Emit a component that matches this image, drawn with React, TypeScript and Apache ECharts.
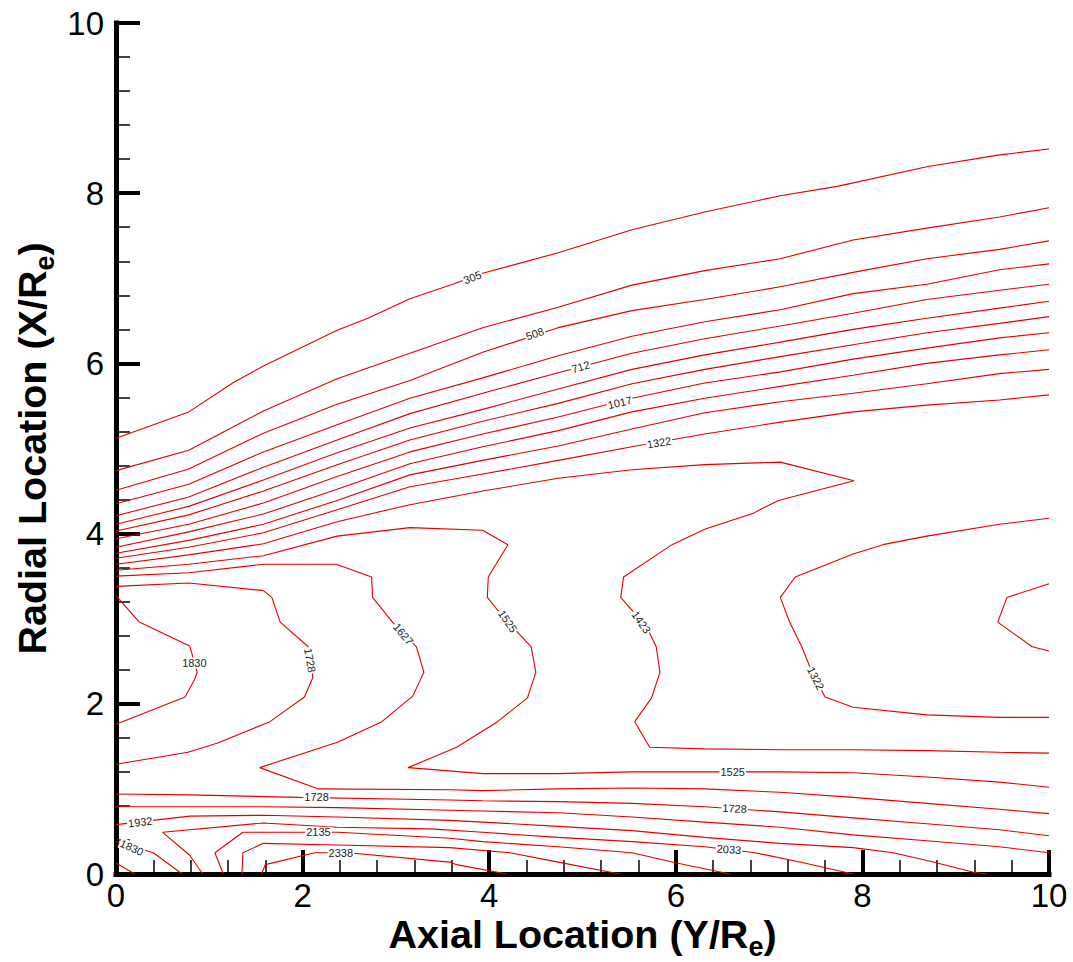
import React, { useEffect, useRef } from "react";
import * as echarts from "echarts";

// ---- contour lines, [axial (Y/Re), radial (X/Re)] ----
const c305 = [[0,5.12],[0.78,5.43],[1.25,5.77],[1.58,5.97],[1.94,6.16],[2.37,6.39],[2.70,6.53],[3.15,6.76],[3.61,6.93],[3.93,7.06],[4.74,7.30],[5.53,7.57],[6.31,7.78],[7.12,7.97],[7.73,8.08],[8.69,8.31],[9.47,8.45],[10,8.52]];
const c407 = [[0,4.74],[0.78,4.98],[1.58,5.44],[2.37,5.82],[3.15,6.12],[3.93,6.42],[4.74,6.66],[5.53,6.92],[6.31,7.09],[7.12,7.23],[7.90,7.45],[8.69,7.59],[9.47,7.72],[10,7.83]];
const c508 = [[0,4.51],[0.78,4.76],[1.58,5.18],[2.37,5.52],[3.15,5.80],[3.93,6.13],[4.74,6.42],[5.53,6.62],[6.31,6.75],[7.12,6.90],[7.90,7.07],[8.69,7.23],[9.47,7.34],[10,7.44]];
const c610 = [[0,4.35],[0.78,4.58],[1.58,4.96],[2.37,5.28],[3.15,5.59],[3.93,5.83],[4.74,6.09],[5.53,6.32],[6.31,6.49],[7.12,6.63],[7.90,6.82],[8.69,6.93],[9.47,7.10],[10,7.17]];
const c712 = [[0,4.21],[0.78,4.43],[1.58,4.78],[2.37,5.10],[3.15,5.41],[3.93,5.65],[4.74,5.89],[5.53,6.12],[6.31,6.29],[7.12,6.44],[7.90,6.59],[8.69,6.75],[9.47,6.86],[10,6.93]];
const c814 = [[0,4.11],[0.78,4.32],[1.58,4.63],[2.37,4.95],[3.15,5.24],[3.93,5.46],[4.74,5.70],[5.53,5.93],[6.31,6.10],[7.12,6.25],[7.90,6.40],[8.69,6.53],[9.47,6.65],[10,6.73]];
const c915 = [[0,4.03],[0.78,4.22],[1.58,4.50],[2.37,4.81],[3.15,5.10],[3.93,5.32],[4.74,5.53],[5.53,5.76],[6.31,5.93],[7.12,6.08],[7.90,6.22],[8.69,6.36],[9.47,6.47],[10,6.55]];
const c1017 = [[0,3.94],[0.78,4.11],[1.58,4.36],[2.37,4.67],[3.15,4.96],[3.93,5.17],[4.74,5.37],[5.53,5.59],[6.31,5.77],[7.12,5.90],[7.90,6.05],[8.69,6.18],[9.47,6.30],[10,6.36]];
const c1119 = [[0,3.84],[0.78,4.02],[1.58,4.23],[2.37,4.52],[3.15,4.82],[3.93,5.02],[4.74,5.21],[5.53,5.43],[6.31,5.59],[7.12,5.73],[7.90,5.86],[8.69,6.00],[9.47,6.10],[10,6.16]];
const c1220 = [[0,3.77],[0.78,3.92],[1.58,4.11],[2.37,4.39],[3.15,4.69],[3.93,4.86],[4.74,5.03],[5.53,5.23],[6.31,5.42],[7.12,5.55],[7.90,5.65],[8.69,5.76],[9.47,5.88],[10,5.93]];
const c1322 = [[0,3.71],[0.78,3.84],[1.58,4.01],[2.37,4.28],[3.15,4.55],[3.93,4.70],[4.74,4.86],[5.53,5.02],[6.31,5.17],[7.12,5.31],[7.90,5.43],[8.69,5.51],[9.47,5.57],[10,5.63]];
const c1424 = [[0,3.64],[0.78,3.75],[1.58,3.88],[2.37,4.14],[3.15,4.34],[3.93,4.50],[4.74,4.65],[5.53,4.75],[6.31,4.81],[7.12,4.84],[7.91,4.62],[7.10,4.39],[6.83,4.24],[6.31,4.05],[5.96,3.87],[5.44,3.49],[5.41,3.25],[5.69,2.90],[5.79,2.67],[5.83,2.37],[5.74,2.07],[5.56,1.79],[5.72,1.49],[6.31,1.47],[7.12,1.46],[7.90,1.46],[8.69,1.45],[9.47,1.43],[10,1.42]];
const c1525 = [[0,3.57],[0.78,3.64],[1.58,3.74],[2.37,3.97],[3.15,4.07],[3.93,4.04],[4.20,3.87],[3.99,3.49],[3.98,3.25],[4.15,3.02],[4.45,2.67],[4.50,2.37],[4.41,2.07],[4.09,1.79],[3.65,1.49],[3.37,1.36],[3.13,1.25],[3.37,1.23],[3.93,1.18],[4.74,1.18],[5.53,1.20],[6.31,1.20],[7.12,1.20],[7.90,1.19],[8.69,1.14],[9.47,1.08],[10,1.02]];
const c1627 = [[0,3.50],[0.78,3.54],[1.58,3.64],[2.36,3.64],[2.74,3.49],[2.75,3.25],[2.97,2.95],[3.22,2.67],[3.30,2.37],[3.18,2.09],[2.85,1.79],[2.38,1.55],[1.54,1.25],[2.17,1.00],[3.58,0.99],[3.93,0.98],[4.74,1.00],[5.53,1.01],[6.31,1.00],[7.12,0.96],[7.90,0.90],[8.69,0.83],[9.47,0.76],[10,0.71]];
const c1728a = [[0,3.38],[0.78,3.42],[1.58,3.33],[1.67,3.25],[1.76,2.96],[2.06,2.67],[2.11,2.31],[2.02,2.08],[1.65,1.79],[1.09,1.54],[0.77,1.43],[0,1.29]];
const c1728b = [[0,0.94],[0.79,0.93],[1.97,0.90],[3.58,0.87],[3.93,0.86],[4.74,0.85],[5.53,0.83],[6.31,0.79],[7.12,0.73],[7.90,0.66],[8.69,0.59],[9.47,0.52],[10,0.45]];
const c1728c = [[0,0.13],[0.20,0]];
const c1830a = [[0,3.27],[0.25,2.96],[0.79,2.68],[0.87,2.37],[0.84,2.28],[0.74,2.08],[0,1.76]];
const c1830b = [[0,0.79],[0.79,0.79],[1.58,0.79],[2.37,0.78],[3.58,0.75],[3.93,0.74],[4.74,0.72],[5.53,0.67],[6.31,0.61],[7.12,0.55],[7.90,0.46],[8.69,0.39],[9.47,0.32],[10,0.25]];
const c1830c = [[0,0.38],[0.40,0.25],[0.71,0]];
const c1932 = [[0,0.58],[0.79,0.68],[1.58,0.69],[2.37,0.67],[3.58,0.63],[3.93,0.61],[4.74,0.56],[5.53,0.51],[6.31,0.43],[7.12,0.36],[7.90,0.31],[8.33,0.25],[8.76,0.14],[9.19,0.02],[9.34,0]];
const c2033 = [[0.93,0],[0.79,0.22],[0.50,0.49],[1.58,0.60],[2.37,0.55],[3.37,0.53],[3.93,0.49],[4.74,0.43],[5.53,0.38],[6.31,0.32],[6.85,0.25],[7.33,0.14],[7.90,0]];
const c2135 = [[1.15,0],[1.06,0.25],[1.36,0.49],[1.58,0.49],[2.38,0.49],[3.58,0.42],[3.93,0.38],[4.74,0.32],[5.53,0.25],[6.01,0.13],[6.58,0]];
const c2237 = [[1.35,0],[1.36,0.25],[1.58,0.36],[2.37,0.34],[3.58,0.31],[4.22,0.25],[4.74,0.14],[5.40,0]];
const c2338 = [[1.56,0],[1.60,0.11],[2.13,0.25],[2.49,0.25],[3.58,0.14],[3.65,0.11],[4.19,0]];
const c1322b = [[10,4.18],[9.47,4.11],[8.69,3.97],[8.22,3.87],[7.90,3.76],[7.28,3.49],[7.12,3.25],[7.22,2.96],[7.35,2.67],[7.46,2.37],[7.60,2.08],[7.90,1.96],[8.69,1.87],[9.47,1.84],[10,1.84]];
const c1220b = [[10,3.41],[9.55,3.25],[9.45,2.96],[9.82,2.67],[10,2.62]];

const contours = [c305, c407, c508, c610, c712, c814, c915, c1017, c1119, c1220, c1322, c1424, c1525, c1627,
  c1728a, c1728b, c1728c, c1830a, c1830b, c1830c, c1932, c2033, c2135, c2237, c2338, c1322b, c1220b];

// ---- contour labels ----
const labelTexts = ["305", "508", "712", "1017", "1322", "1830", "1728", "1627", "1525", "1423", "1322", "1525", "1728", "1728", "1932", "1830", "2135", "2338", "2033"];
const labelX = [3.82, 4.49, 4.98, 5.40, 5.82, 0.84, 2.08, 3.08, 4.20, 5.63, 7.50, 6.61, 2.15, 6.63, 0.26, 0.17, 2.17, 2.41, 6.57];
const labelY = [7.01, 6.35, 5.96, 5.54, 5.07, 2.48, 2.51, 2.82, 2.97, 2.96, 2.30, 1.20, 0.90, 0.77, 0.61, 0.31, 0.49, 0.25, 0.29];
const labelRot = [21, 19, 16, 13, 10, 0, -80, -50, -55, -55, -63, 0, 0, -3, 7, -24, 0, 0, -4];

// ---- axes ----
const axisMin = 0;
const axisMax = 10;
const axisStep = 2;
const xTitle = "Axial Location (Y/R{sub|e})";
const yTitle = "Radial Location (X/R{sub|e})";

const FONT = 'Arial, "Liberation Sans", Helvetica, sans-serif';
const RED = "#e00000";

function axisBase(name: string, gap: number, labelMargin: number) {
  return {
    type: "value" as const,
    min: axisMin,
    max: axisMax,
    interval: axisStep,
    axisLine: { show: true, onZero: false, lineStyle: { color: "#000", width: 5, cap: "square" } },
    axisTick: { show: true, inside: true, length: 24, lineStyle: { color: "#000", width: 4 } },
    minorTick: { show: true, splitNumber: 5, length: 14, lineStyle: { color: "#000", width: 1.5 } },
    splitLine: { show: false },
    minorSplitLine: { show: false },
    axisLabel: { color: "#000", fontSize: 33, fontFamily: FONT, margin: labelMargin },
    name,
    nameLocation: "middle" as const,
    nameGap: gap,
    nameMoveOverlap: false,
    nameTextStyle: {
      color: "#000",
      fontSize: 39.5,
      fontWeight: "bold",
      fontFamily: FONT,
      rich: {
        sub: { color: "#000", fontSize: 27, fontWeight: "bold", fontFamily: FONT, padding: [26, 0, 0, 0] },
      },
    },
  };
}

export default function App() {
  const ref = useRef<HTMLDivElement>(null);
  useEffect(() => {
    if (!ref.current) return;
    const chart = echarts.init(ref.current, undefined, { renderer: "svg" });
    const lineSeries = contours.map((pts) => ({
      type: "line",
      data: pts,
      symbol: "none",
      showSymbol: false,
      silent: true,
      lineStyle: { color: RED, width: 1.1 },
      z: 2,
    }));
    const labelData = labelTexts.map((t, i) => ({
      value: [labelX[i], labelY[i]],
      label: { formatter: t, rotate: labelRot[i] },
    }));
    chart.setOption({
      animation: false,
      backgroundColor: "#fff",
      grid: { left: 116, right: 24, top: 23, bottom: 88, outerBoundsMode: "none" },
      xAxis: axisBase(xTitle, 33, 5),
      yAxis: axisBase(yTitle, 58, 12),
      series: [
        ...lineSeries,
        {
          type: "scatter",
          data: labelData,
          symbolSize: 2,
          itemStyle: { color: "rgba(255,255,255,0)" },
          silent: true,
          z: 5,
          label: {
            show: true,
            position: "inside",
            color: "#222",
            opacity: 1,
            fontSize: 11,
            fontFamily: FONT,
            backgroundColor: "#fff",
            padding: [0, 1],
          },
        },
      ],
    });
    return () => chart.dispose();
  }, []);
  return <div ref={ref} style={{ position: "fixed", left: 0, top: 0, width: 1073, height: 962 }} />;
}
